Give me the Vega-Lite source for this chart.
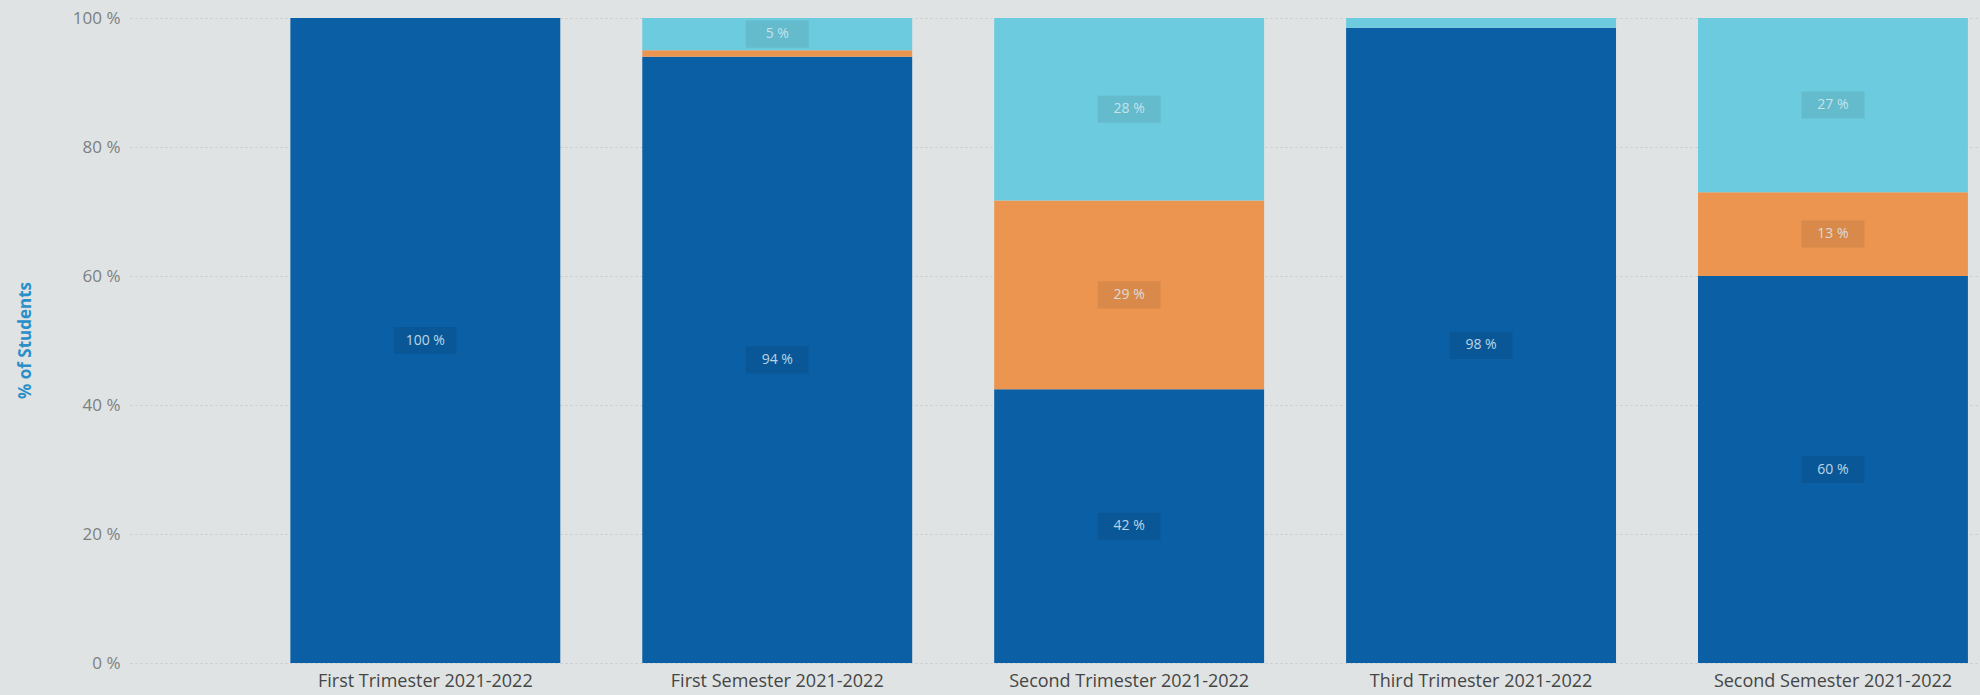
{
  "$schema": "https://vega.github.io/schema/vega-lite/v6.json",
  "width": 1850,
  "height": 645,
  "autosize": {"type": "none"},
  "padding": {"left": 130, "top": 18, "right": 0, "bottom": 32},
  "background": "#dfe3e3",
  "config": {
    "view": {"stroke": null},
    "font": "Open Sans"
  },
  "data": {
    "values": [
      {"term": "First Trimester 2021-2022", "category": "Category 1", "value": 100, "label": "100 %"},
      {"term": "First Trimester 2021-2022", "category": "Category 2", "value": 0, "label": ""},
      {"term": "First Trimester 2021-2022", "category": "Category 3", "value": 0, "label": ""},
      {"term": "First Semester 2021-2022", "category": "Category 1", "value": 94, "label": "94 %"},
      {"term": "First Semester 2021-2022", "category": "Category 2", "value": 1, "label": ""},
      {"term": "First Semester 2021-2022", "category": "Category 3", "value": 5, "label": "5 %"},
      {"term": "Second Trimester 2021-2022", "category": "Category 1", "value": 42, "label": "42 %"},
      {"term": "Second Trimester 2021-2022", "category": "Category 2", "value": 29, "label": "29 %"},
      {"term": "Second Trimester 2021-2022", "category": "Category 3", "value": 28, "label": "28 %"},
      {"term": "Third Trimester 2021-2022", "category": "Category 1", "value": 98, "label": "98 %"},
      {"term": "Third Trimester 2021-2022", "category": "Category 2", "value": 0, "label": ""},
      {"term": "Third Trimester 2021-2022", "category": "Category 3", "value": 1.5, "label": ""},
      {"term": "Second Semester 2021-2022", "category": "Category 1", "value": 60, "label": "60 %"},
      {"term": "Second Semester 2021-2022", "category": "Category 2", "value": 13, "label": "13 %"},
      {"term": "Second Semester 2021-2022", "category": "Category 3", "value": 27, "label": "27 %"}
    ]
  },
  "encoding": {
    "x": {
      "field": "term",
      "type": "nominal",
      "sort": null,
      "scale": {"paddingInner": 0.233, "paddingOuter": 0.245, "align": 0.93},
      "axis": {
        "title": null,
        "labelAngle": 0,
        "domain": false,
        "ticks": false,
        "labelFontSize": 18,
        "labelLimit": 400,
        "labelColor": "#454545",
        "labelPadding": 9
      }
    }
  },
  "layer": [
    {
      "mark": {"type": "bar"},
      "encoding": {
        "y": {
          "field": "value",
          "type": "quantitative",
          "stack": "normalize",
          "scale": {"domain": [0, 1]},
          "axis": {
            "title": "% of Students",
            "titleColor": "#2a8fc9",
            "titleFontSize": 17,
            "titleFontWeight": "bold",
            "titleX": -105,
            "titleY": 322,
            "titleAngle": -90,
            "titleAlign": "center",
            "titleBaseline": "middle",
            "values": [0, 0.2, 0.4, 0.6, 0.8, 1],
            "labelExpr": "round(datum.value * 100) + ' %'",
            "labelFontSize": 17,
            "labelColor": "#7d7f80",
            "labelPadding": 10,
            "domain": false,
            "ticks": false,
            "grid": true,
            "gridColor": "#c6caca",
            "gridDash": [2, 3]
          }
        },
        "color": {
          "field": "category",
          "type": "nominal",
          "scale": {
            "domain": ["Category 1", "Category 2", "Category 3"],
            "range": ["#0b5fa5", "#ec9550", "#6ccbde"]
          },
          "legend": null
        },
        "order": {"field": "category", "sort": "ascending"}
      }
    },
    {
      "mark": {"type": "point", "shape": "M-1,-0.43H1V0.43H-1Z", "filled": true, "size": 3969, "color": "#000000", "strokeWidth": 0},
      "encoding": {
        "y": {"field": "value", "type": "quantitative", "stack": "normalize", "bandPosition": 0.5},
        "detail": {"field": "category"},
        "order": {"field": "category", "sort": "ascending"},
        "opacity": {"condition": {"test": "datum.label != ''", "value": 0.08}, "value": 0}
      }
    },
    {
      "mark": {"type": "text", "fontSize": 14, "color": "#dbe9f1", "opacity": 0.85, "baseline": "middle"},
      "encoding": {
        "y": {"field": "value", "type": "quantitative", "stack": "normalize", "bandPosition": 0.5},
        "detail": {"field": "category"},
        "order": {"field": "category", "sort": "ascending"},
        "text": {"field": "label", "type": "nominal"}
      }
    }
  ]
}
